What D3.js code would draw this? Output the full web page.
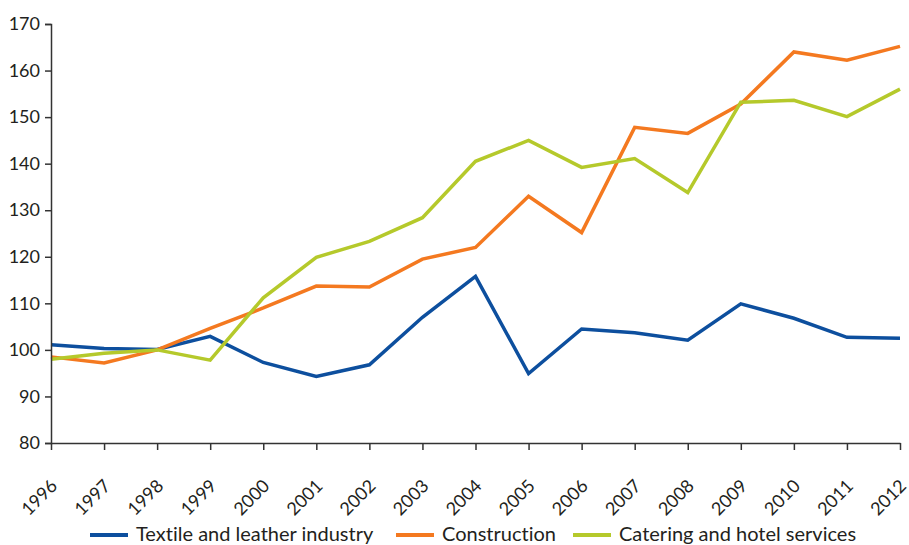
<!DOCTYPE html>
<html><head><meta charset="utf-8">
<script src="https://cdn.jsdelivr.net/npm/d3@7"></script>
<style>
body{margin:0;background:#fff;}
svg text{font-family:Lato, "Noto Sans", sans-serif;fill:#231f20;font-variant-ligatures:none;}
</style></head><body>
<svg id="c" width="909" height="545"></svg>
<script>
const years = ["1996","1997","1998","1999","2000","2001","2002","2003","2004","2005","2006","2007","2008","2009","2010","2011","2012"];
const textile = [101.1,100.3,100.1,102.9,97.3,94.3,96.8,107.0,115.8,94.9,104.5,103.7,102.1,109.9,106.8,102.7,102.5];
const construction = [98.5,97.2,100.0,104.6,109.0,113.7,113.5,119.5,122.0,133.0,125.2,147.8,146.5,152.8,164.0,162.2,165.2];
const catering = [98.0,99.3,100.0,97.8,111.2,119.9,123.3,128.4,140.5,145.0,139.2,141.1,133.8,153.2,153.6,150.1,156.0];
const yTicks = [80,90,100,110,120,130,140,150,160,170];
const seriesNames = ["Textile and leather industry","Construction","Catering and hotel services"];
const colors = ["#0d4f9e","#f47920","#b5c92b"];

const svg = d3.select("#c");
const x = d3.scalePoint().domain(years).range([51,900]);
const y = d3.scaleLinear().domain([80,170]).range([443,24]);

const series = [textile, construction, catering];
const line = d3.line().x((d,i)=>x(years[i])).y(d=>y(d));
series.forEach((s,k)=>{
  svg.append("path").datum(s).attr("d",line).attr("fill","none")
    .attr("stroke",colors[k]).attr("stroke-width",3.5).attr("stroke-linejoin","miter");
});

const ya = svg.append("g").attr("transform","translate(51,0)")
  .call(d3.axisLeft(y).tickValues(yTicks).tickSize(6).tickPadding(5).tickFormat(d3.format("d")));
ya.select(".domain").attr("stroke","#333").attr("stroke-width",1.5);
ya.selectAll(".tick line").attr("stroke","#333").attr("stroke-width",1.5);
ya.selectAll("text").style("font-size","18px").attr("fill","#231f20");

const xa = svg.append("g").attr("transform","translate(0,443)")
  .call(d3.axisBottom(x).tickSize(7).tickSizeOuter(0));
xa.select(".domain").attr("stroke","#333").attr("stroke-width",1.5);
xa.selectAll(".tick line").attr("stroke","#333").attr("stroke-width",1.5);
xa.selectAll("text").style("font-size","18px").attr("fill","#231f20")
  .attr("text-anchor","end").attr("dy",null).attr("y",null)
  .attr("transform","translate(7,44) rotate(-45)");

const leg = svg.append("g");
const legX = [90,396,573];
seriesNames.forEach((n,k)=>{
  leg.append("rect").attr("x",legX[k]).attr("y",533).attr("width",38).attr("height",4).attr("fill",colors[k]);
  leg.append("text").attr("x",legX[k]+46).attr("y",541).text(n).style("font-size","20px");
});
</script></body></html>
